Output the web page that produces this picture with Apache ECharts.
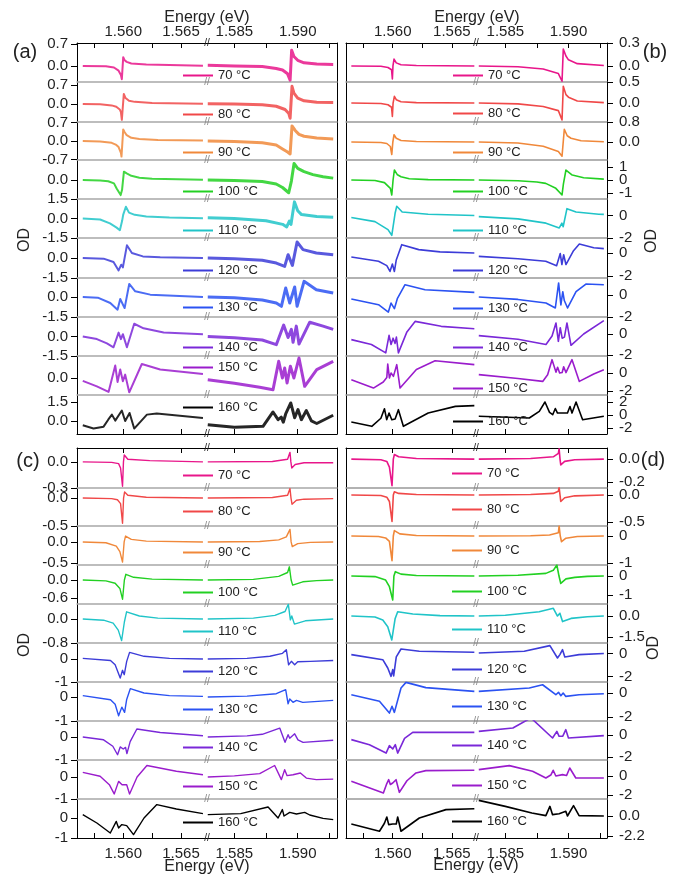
<!DOCTYPE html>
<html>
<head>
<meta charset="utf-8">
<script src="https://cdn.jsdelivr.net/npm/echarts@6/dist/echarts.min.js"></script>
<style>
  html, body { margin: 0; padding: 0; background: #fff; }
  #main { width: 692px; height: 877px; }
</style>
</head>
<body>
<div id="main"></div>
<script>
const FONT = '"Liberation Sans", Arial, sans-serif';

const temps = ['70 °C', '80 °C', '90 °C', '100 °C', '110 °C', '120 °C', '130 °C', '140 °C', '150 °C', '160 °C'];
const colors = ['#e8168a', '#f04848', '#f0883a', '#22d022', '#20c4c8', '#3c3cd8', '#2b52f2', '#7a28d8', '#9a1ccc', '#000000'];

// (a) measured, low energy part / high energy part, [energy eV, OD]
const aLeft = [
  [[1.5565,0],[1.5585,-0.01],[1.5592,-0.05],[1.5596,-0.15],[1.5598,-0.29],[1.55988,-0.42],[1.5600,0.28],[1.5601,0.19],[1.5603,0.13],[1.5607,0.08],[1.5620,0.05],[1.5640,0.03],[1.5669,0.01]],
  [[1.5565,0],[1.5580,-0.01],[1.5590,-0.05],[1.5594,-0.1],[1.5597,-0.2],[1.5598,-0.3],[1.55988,-0.58],[1.56005,0.37],[1.5602,0.22],[1.5605,0.12],[1.5610,0.08],[1.5625,0.04],[1.5669,0.01]],
  [[1.5565,0],[1.5580,-0.02],[1.5590,-0.07],[1.5594,-0.15],[1.5596,-0.23],[1.5598,-0.45],[1.55985,-0.59],[1.5600,0.44],[1.5601,0.35],[1.5603,0.22],[1.5607,0.12],[1.5614,0.08],[1.5630,0.04],[1.5669,0.02]],
  [[1.5565,0],[1.5580,-0.02],[1.5587,-0.06],[1.5592,-0.17],[1.55943,-0.43],[1.55978,-0.77],[1.5599,-0.5],[1.56006,0.43],[1.5603,0.34],[1.5607,0.22],[1.5614,0.12],[1.5625,0.07],[1.5669,0.02]],
  [[1.5565,0],[1.5580,-0.08],[1.55885,-0.38],[1.55943,-0.7],[1.55971,-0.9],[1.5599,-0.2],[1.5600,0.3],[1.56023,0.9],[1.5605,0.45],[1.5610,0.28],[1.5620,0.16],[1.5640,0.07],[1.5669,0.02]],
  [[1.5565,0],[1.5583,-0.05],[1.55916,-0.3],[1.5596,-0.93],[1.55983,-0.5],[1.55997,-0.7],[1.56032,0.95],[1.56075,0.37],[1.5617,0.12],[1.5632,0.05],[1.5669,0]],
  [[1.5565,0],[1.5578,-0.05],[1.55888,-0.45],[1.55951,-0.95],[1.55974,-0.15],[1.56012,-0.83],[1.56052,0.98],[1.56104,0.43],[1.56234,0.18],[1.5669,0]],
  [[1.5565,0],[1.55772,-0.2],[1.55859,-0.53],[1.55916,-0.83],[1.5596,0.3],[1.5598,-0.2],[1.55997,0.18],[1.56032,-0.83],[1.56095,0.98],[1.56176,0.63],[1.5635,0.3],[1.5669,0.18]],
  [[1.5565,-0.22],[1.55772,-0.63],[1.55873,-1.05],[1.55931,0.93],[1.55951,-0.3],[1.55974,0.63],[1.55997,-0.25],[1.56017,0.25],[1.56052,-1.08],[1.56161,1.05],[1.5632,0.63],[1.5669,0.3]],
  [[1.5565,-0.34],[1.55743,-0.6],[1.5583,-0.45],[1.5587,0.1],[1.55902,0.5],[1.55931,0.03],[1.55988,0.82],[1.56017,0],[1.56055,0.63],[1.56095,-0.6],[1.56205,0.5],[1.5629,0.58],[1.5669,0.24]]
];
const aRight = [
  [[1.5829,0.02],[1.5850,0],[1.5872,-0.02],[1.5883,-0.08],[1.5888,-0.13],[1.5892,-0.25],[1.5894,-0.45],[1.58952,0.5],[1.5897,0.3],[1.5900,0.18],[1.5905,0.1],[1.5915,0.06],[1.5928,0.05]],
  [[1.5829,0.01],[1.5850,0],[1.5872,-0.03],[1.5883,-0.08],[1.5890,-0.2],[1.5893,-0.35],[1.5894,-0.52],[1.58955,0.65],[1.5897,0.4],[1.5900,0.22],[1.5905,0.12],[1.5915,0.07],[1.5928,0.06]],
  [[1.5829,0],[1.5850,-0.02],[1.5872,-0.07],[1.5883,-0.15],[1.5888,-0.3],[1.5892,-0.42],[1.5894,-0.49],[1.58955,0.57],[1.5898,0.4],[1.5901,0.25],[1.5905,0.18],[1.5915,0.11],[1.5928,0.08]],
  [[1.5829,0],[1.5850,-0.02],[1.5872,-0.07],[1.5883,-0.2],[1.5888,-0.38],[1.58929,-0.65],[1.5895,-0.05],[1.58971,0.85],[1.5900,0.6],[1.5905,0.43],[1.5912,0.28],[1.5920,0.17],[1.5928,0.1]],
  [[1.5829,0.05],[1.5850,0],[1.5875,-0.17],[1.58881,-0.45],[1.58913,-0.65],[1.58934,-0.2],[1.58947,-0.45],[1.58974,1.28],[1.5900,0.6],[1.5903,0.3],[1.5915,0.15],[1.5928,0.1]],
  [[1.5829,0],[1.5850,-0.05],[1.5872,-0.17],[1.58831,-0.38],[1.58897,-0.63],[1.58924,0.25],[1.58958,-0.55],[1.58995,1.2],[1.59042,0.63],[1.59147,0.37],[1.5928,0.25]],
  [[1.5829,0],[1.5850,-0.05],[1.5872,-0.22],[1.58831,-0.45],[1.58871,-0.7],[1.58905,0.68],[1.58937,-0.45],[1.58976,0.75],[1.58995,-0.7],[1.5905,1.18],[1.59147,0.55],[1.5928,0.3]],
  [[1.5829,0],[1.5850,-0.1],[1.5872,-0.27],[1.58831,-0.63],[1.58889,0.88],[1.58924,-0.08],[1.5895,0.55],[1.58963,-0.45],[1.58989,0.8],[1.5901,-0.58],[1.59095,1.1],[1.5920,0.8],[1.5928,0.55]],
  [[1.5829,-0.13],[1.5850,-0.4],[1.5870,-0.7],[1.58805,-0.88],[1.5885,1.25],[1.58879,0],[1.58897,0.75],[1.58916,-0.38],[1.58942,0.88],[1.5897,0],[1.5901,1.5],[1.59055,-0.63],[1.5915,0.63],[1.5928,1.25]],
  [[1.5829,-0.3],[1.5850,-0.5],[1.58726,-0.42],[1.58805,0.71],[1.58845,0.1],[1.5887,0.3],[1.58886,-0.1],[1.58905,0.55],[1.58945,1.42],[1.58976,0.25],[1.59002,0.9],[1.59029,0.1],[1.59068,0.82],[1.59108,0],[1.5915,-0.2],[1.5928,0.45]]
];

// (b)
const bLeft = [
  [[1.5565,0],[1.5590,-0.005],[1.5596,-0.02],[1.5599,-0.05],[1.55997,-0.17],[1.56002,0],[1.56011,0.09],[1.5603,0.04],[1.5607,0.015],[1.5620,0.005],[1.5669,0]],
  [[1.5565,0],[1.5590,-0.01],[1.5596,-0.04],[1.5599,-0.1],[1.55997,-0.32],[1.56003,0],[1.56014,0.16],[1.5603,0.08],[1.5607,0.03],[1.5620,0.01],[1.5669,0]],
  [[1.5565,0],[1.5590,-0.02],[1.5595,-0.06],[1.5598,-0.18],[1.55992,-0.5],[1.56001,0],[1.56011,0.29],[1.5603,0.15],[1.5607,0.06],[1.5620,0.02],[1.5669,0]],
  [[1.5565,0],[1.5585,-0.04],[1.5593,-0.2],[1.5598,-0.64],[1.55992,-1.15],[1.56003,0],[1.56014,0.77],[1.5604,0.4],[1.5607,0.25],[1.5614,0.1],[1.5630,0.03],[1.5669,0]],
  [[1.5565,-0.17],[1.5585,-0.54],[1.5596,-1.25],[1.55992,-1.76],[1.5602,0.2],[1.56034,0.83],[1.5608,0.31],[1.5630,0.11],[1.5669,0]],
  [[1.5565,-0.35],[1.5588,-0.72],[1.5595,-1.1],[1.55977,-1.6],[1.55997,-0.96],[1.56014,-1.6],[1.5603,-0.6],[1.56076,0.72],[1.5622,0.29],[1.5640,0.1],[1.5669,0]],
  [[1.5565,-0.36],[1.5588,-0.88],[1.55963,-1.55],[1.55986,-0.73],[1.56014,-1.24],[1.5604,-0.3],[1.56104,0.94],[1.56273,0.48],[1.5669,0.24]],
  [[1.5565,-0.54],[1.5582,-1.0],[1.55941,-1.8],[1.55969,-0.13],[1.55986,-1.0],[1.56003,-0.4],[1.5602,-0.9],[1.56031,-0.3],[1.56048,-1.8],[1.5612,0.2],[1.56189,1.2],[1.5641,0.73],[1.5669,0.5]],
  [[1.5565,-0.74],[1.55837,-1.67],[1.5592,-1.0],[1.5595,-0.5],[1.55958,1.0],[1.55972,-0.55],[1.55986,0],[1.56006,-0.37],[1.56034,0.93],[1.56062,-1.67],[1.5620,0.4],[1.56358,1.37],[1.5669,0.93]],
  [[1.5565,-1.08],[1.55823,-1.74],[1.5590,-0.5],[1.5593,0.97],[1.55949,-0.72],[1.55969,0.3],[1.55992,-0.72],[1.5602,-0.6],[1.56048,0.82],[1.5609,-1.74],[1.5630,0.3],[1.5653,1.33],[1.5669,1.44]]
];
const bRight = [
  [[1.5829,0],[1.5860,-0.01],[1.5880,-0.04],[1.5892,-0.1],[1.58949,-0.2],[1.58959,0.22],[1.5898,0.13],[1.5900,0.08],[1.5907,0.03],[1.5928,0.005]],
  [[1.5829,0],[1.5860,-0.02],[1.5880,-0.08],[1.5892,-0.18],[1.58949,-0.4],[1.58959,0.4],[1.5898,0.2],[1.5900,0.14],[1.5907,0.05],[1.5928,0.01]],
  [[1.5829,0],[1.5860,-0.04],[1.5880,-0.17],[1.5892,-0.38],[1.58949,-0.57],[1.58967,0.51],[1.5899,0.25],[1.5902,0.15],[1.5910,0.05],[1.5928,0.01]],
  [[1.5829,0],[1.5860,-0.06],[1.5875,-0.15],[1.5882,-0.26],[1.5890,-0.64],[1.58949,-1.15],[1.5896,-0.3],[1.5898,0.77],[1.5903,0.38],[1.5912,0.18],[1.5928,0.07]],
  [[1.5829,-0.1],[1.5860,-0.3],[1.58822,-0.68],[1.58927,-1.1],[1.58948,-0.68],[1.58958,-1.0],[1.58988,0.61],[1.5906,0.31],[1.5924,0.11],[1.5928,0.1]],
  [[1.5829,-0.29],[1.5860,-0.5],[1.5882,-0.72],[1.58906,-1.1],[1.58935,-0.05],[1.58948,-1.0],[1.58962,-0.15],[1.5898,-1.0],[1.5904,0.2],[1.59086,0.78],[1.5920,0.45],[1.5928,0.38]],
  [[1.5829,-0.18],[1.5860,-0.4],[1.58822,-0.73],[1.58896,-1.18],[1.58922,1.1],[1.5894,-0.9],[1.58955,0.3],[1.58967,-0.5],[1.58993,-1.18],[1.5906,0.3],[1.59138,1.0],[1.5928,0.94]],
  [[1.5829,-0.16],[1.5860,-0.5],[1.58822,-1.0],[1.5887,-0.2],[1.58901,1.05],[1.5892,-0.7],[1.58935,0.6],[1.5895,-0.4],[1.58968,-0.3],[1.58988,1.05],[1.5902,-1.08],[1.5912,0],[1.5928,1.27]],
  [[1.5829,-0.18],[1.5860,-0.6],[1.58796,-0.93],[1.58835,-0.2],[1.5887,1.48],[1.58901,0.1],[1.58914,0.63],[1.5893,0],[1.5895,0.05],[1.58962,0.7],[1.5898,0.05],[1.59028,1.48],[1.59086,-0.93],[1.5920,-0.1],[1.5928,0.37]],
  [[1.5829,-0.2],[1.5869,-0.46],[1.58769,0.56],[1.58814,2.0],[1.5885,0.4],[1.58875,0.05],[1.58896,1.0],[1.58913,0.3],[1.58992,0.3],[1.59012,1.3],[1.59028,0.3],[1.5906,2.0],[1.59112,-0.72],[1.5928,-0.2]]
];

// (c)
const cLeft = [
  [[1.5565,0],[1.5590,-0.005],[1.5596,-0.02],[1.55977,-0.07],[1.55994,-0.28],[1.56002,0],[1.56009,0.08],[1.5604,0.03],[1.5623,0.015],[1.5669,0]],
  [[1.5565,0],[1.5590,-0.01],[1.5595,-0.03],[1.55977,-0.1],[1.55994,-0.45],[1.56003,0],[1.56012,0.11],[1.5604,0.05],[1.5620,0.015],[1.5669,0]],
  [[1.5565,0],[1.5585,-0.02],[1.5594,-0.1],[1.55971,-0.23],[1.55994,-0.48],[1.56008,0],[1.5602,0.14],[1.5607,0.06],[1.5620,0.02],[1.5669,0]],
  [[1.5565,0],[1.5585,-0.03],[1.5593,-0.11],[1.55971,-0.28],[1.55994,-0.64],[1.5601,0],[1.56023,0.19],[1.5609,0.09],[1.5625,0.03],[1.5669,0]],
  [[1.5565,0],[1.5583,-0.04],[1.55913,-0.14],[1.55957,-0.37],[1.55986,-0.72],[1.5601,-0.1],[1.56029,0.24],[1.5614,0.1],[1.5630,0.03],[1.5669,0]],
  [[1.5565,0.03],[1.5589,-0.06],[1.5593,-0.25],[1.55974,-0.83],[1.55994,-0.49],[1.56009,-0.68],[1.5603,-0.1],[1.56055,0.29],[1.5618,0.12],[1.5640,0.03],[1.5669,0]],
  [[1.5565,0.06],[1.5589,-0.11],[1.5593,-0.3],[1.5596,-0.78],[1.55988,-0.42],[1.56012,-0.64],[1.5603,-0.1],[1.56061,0.35],[1.5618,0.17],[1.5640,0.06],[1.5669,0.03]],
  [[1.5565,0],[1.5583,-0.12],[1.5591,-0.4],[1.55951,-0.77],[1.55974,-0.43],[1.5600,-0.52],[1.5602,-0.45],[1.56032,-0.72],[1.5606,-0.2],[1.56118,0.35],[1.5632,0.2],[1.5669,0.06]],
  [[1.5565,0.21],[1.5580,0.03],[1.5588,-0.35],[1.55922,-0.77],[1.5596,-0.2],[1.5599,-0.35],[1.56003,-0.3],[1.5603,-0.35],[1.56055,-0.77],[1.5612,0],[1.56205,0.52],[1.5646,0.26],[1.5669,0.1]],
  [[1.5565,0.17],[1.55772,-0.25],[1.55888,-0.75],[1.5594,-0.17],[1.5596,-0.5],[1.55988,-0.33],[1.5603,-0.38],[1.56046,-0.33],[1.56089,-0.83],[1.5618,0],[1.56291,0.67],[1.5646,0.45],[1.5669,0.22]]
];
const cRight = [
  [[1.5829,0],[1.5880,0.005],[1.5892,0.03],[1.58939,0.11],[1.58946,0],[1.58953,-0.07],[1.5898,-0.03],[1.5905,-0.01],[1.5928,-0.01]],
  [[1.5829,0],[1.5880,0.01],[1.5892,0.05],[1.58939,0.17],[1.58947,0],[1.58955,-0.11],[1.5899,-0.04],[1.5905,-0.02],[1.5928,-0.01]],
  [[1.5829,0],[1.5870,0.01],[1.5885,0.05],[1.5891,0.12],[1.58939,0.3],[1.58948,0],[1.58957,-0.11],[1.5900,-0.04],[1.5910,-0.01],[1.5928,0]],
  [[1.5829,0],[1.5865,0.02],[1.5885,0.12],[1.5892,0.25],[1.58934,0.44],[1.58948,0],[1.5896,-0.17],[1.5904,-0.06],[1.5915,-0.02],[1.5928,0]],
  [[1.5829,0],[1.5865,0.03],[1.5882,0.12],[1.5890,0.25],[1.58926,0.49],[1.58942,-0.03],[1.58953,0.1],[1.58974,-0.17],[1.5906,-0.06],[1.5928,0]],
  [[1.5829,0],[1.5860,0.03],[1.5878,0.12],[1.5888,0.25],[1.5891,0.41],[1.58928,-0.25],[1.5895,-0.1],[1.58976,-0.25],[1.5900,-0.12],[1.5910,-0.1],[1.5928,-0.06]],
  [[1.5829,0],[1.5860,0.04],[1.58831,0.14],[1.58905,0.31],[1.58924,-0.28],[1.58937,-0.08],[1.58963,-0.22],[1.5899,-0.14],[1.5904,-0.22],[1.5928,-0.14]],
  [[1.5829,0],[1.5860,0.05],[1.5872,0.12],[1.58858,0.39],[1.5890,-0.23],[1.58924,0.1],[1.58937,-0.05],[1.58976,0.14],[1.59002,-0.12],[1.59042,-0.23],[1.5928,-0.14]],
  [[1.5829,0],[1.5850,0.05],[1.5870,0.15],[1.58818,0.52],[1.58871,-0.12],[1.58897,0.33],[1.58916,0.06],[1.58963,0.1],[1.59021,0.18],[1.59068,-0.05],[1.59147,-0.12],[1.5928,-0.1]],
  [[1.5829,0.17],[1.5855,0.22],[1.58766,0.55],[1.58845,0],[1.58879,0.42],[1.58892,0.1],[1.58937,0.28],[1.5899,0.2],[1.59055,0.28],[1.59095,0.15],[1.5920,-0.02],[1.5928,-0.08]]
];

// (d)
const dLeft = [
  [[1.5565,0],[1.5590,-0.005],[1.5595,-0.02],[1.55972,-0.07],[1.55994,-0.23],[1.56005,0],[1.56014,0.04],[1.5605,0.02],[1.5620,0.005],[1.5669,0]],
  [[1.5565,0],[1.5590,-0.01],[1.5595,-0.04],[1.55972,-0.12],[1.55994,-0.49],[1.56005,0],[1.56014,0.06],[1.5605,0.03],[1.5620,0.01],[1.5669,0]],
  [[1.5565,0],[1.5588,-0.02],[1.5594,-0.07],[1.55972,-0.2],[1.55994,-0.91],[1.56005,0],[1.56014,0.2],[1.5606,0.08],[1.5620,0.02],[1.5669,0]],
  [[1.5565,0],[1.5585,-0.03],[1.5594,-0.21],[1.55972,-0.56],[1.5600,-1.26],[1.5601,0],[1.56022,0.23],[1.5607,0.1],[1.5620,0.03],[1.5669,0]],
  [[1.5565,0],[1.5585,-0.07],[1.55916,-0.29],[1.55958,-0.76],[1.55992,-1.71],[1.5602,-0.2],[1.56042,0.31],[1.5617,0.14],[1.5640,0.03],[1.5669,0]],
  [[1.5565,-0.1],[1.55916,-0.54],[1.55958,-1.26],[1.55986,-1.99],[1.5600,-1.4],[1.56008,-1.95],[1.5603,-0.3],[1.5607,0.39],[1.56225,0.19],[1.5669,0.1]],
  [[1.5565,-0.14],[1.55888,-0.69],[1.55972,-1.67],[1.55994,-1.1],[1.56014,-1.61],[1.5607,0.42],[1.56112,0.89],[1.5628,0.45],[1.5669,0.14]],
  [[1.5565,-0.42],[1.55803,-0.88],[1.55944,-1.64],[1.55972,-0.97],[1.5600,-1.27],[1.56022,-0.88],[1.56042,-1.64],[1.5610,-0.3],[1.56169,0.24],[1.5669,0.24]],
  [[1.5565,-0.56],[1.55921,-1.79],[1.5595,-0.8],[1.55966,-0.39],[1.5598,-0.9],[1.5600,-0.74],[1.56028,-0.39],[1.56056,-1.72],[1.5612,-0.5],[1.56197,0.32],[1.5628,0.56],[1.5669,0.6]],
  [[1.5565,-0.88],[1.55888,-1.68],[1.5593,-0.8],[1.5595,-0.11],[1.55966,-0.95],[1.5600,-0.88],[1.5603,-0.88],[1.56042,-0.11],[1.5607,-1.68],[1.56225,-0.22],[1.5645,0.7],[1.5669,0.8]]
];
const dRight = [
  [[1.5829,0],[1.5870,0.005],[1.5888,0.02],[1.5892,0.05],[1.58926,0.09],[1.58933,0],[1.58939,-0.05],[1.5897,-0.02],[1.5905,-0.005],[1.5928,0]],
  [[1.5829,0],[1.5870,0.01],[1.5888,0.03],[1.5892,0.07],[1.58926,0.14],[1.58933,0],[1.58939,-0.12],[1.5897,-0.05],[1.5905,-0.015],[1.5928,0]],
  [[1.5829,0],[1.5870,0.01],[1.5885,0.04],[1.5892,0.12],[1.58926,0.37],[1.58935,0],[1.58945,-0.21],[1.5898,-0.08],[1.5907,-0.02],[1.5928,0]],
  [[1.5829,0],[1.5860,0.04],[1.58821,0.14],[1.5888,0.3],[1.58908,0.58],[1.58925,0],[1.58939,-0.39],[1.5898,-0.15],[1.5905,-0.07],[1.5915,-0.02],[1.5928,0]],
  [[1.5829,0],[1.5850,0.05],[1.58768,0.31],[1.5888,0.55],[1.58895,0.67],[1.58913,0],[1.58932,0.2],[1.58953,-0.4],[1.5902,-0.17],[1.5915,-0.05],[1.5928,0]],
  [[1.5829,0.04],[1.5865,0.19],[1.58853,0.68],[1.58913,-0.39],[1.58932,-0.1],[1.58953,0.33],[1.58971,-0.3],[1.59084,-0.1],[1.5928,0]],
  [[1.5829,0.14],[1.5869,0.42],[1.58795,0.69],[1.5890,-0.14],[1.58921,0.06],[1.5894,-0.22],[1.58958,0],[1.58979,-0.28],[1.59084,-0.14],[1.5928,-0.06]],
  [[1.5829,0.33],[1.5856,0.64],[1.58703,1.55],[1.58874,-0.27],[1.58908,0.33],[1.58926,-0.12],[1.58955,-0.1],[1.58979,0.48],[1.5900,-0.27],[1.5928,-0.06]],
  [[1.5829,0.67],[1.58532,1.09],[1.58716,0.49],[1.58821,-0.21],[1.5886,0.1],[1.58879,0.6],[1.5890,0],[1.58953,0.14],[1.58985,0.05],[1.5901,0.84],[1.59058,-0.21],[1.5928,-0.21]],
  [[1.5829,1.72],[1.5850,1.06],[1.5871,0.33],[1.58821,0.04],[1.58853,1.06],[1.58874,0.15],[1.58926,0.25],[1.58979,0.51],[1.58992,0],[1.5904,1.14],[1.59084,0.04],[1.5928,0]]
];

// y ranges and tick labels of the stacked rows
const yRangeA = [[-0.51,0.73],[-0.66,0.81],[-0.72,0.72],[-0.97,1.03],[-1.5,1.5],[-1.5,1.5],[-1.5,1.43],[-1.5,1.5],[-1.28,1.65],[-1.03,2.05]];
const yTicksA = [[0,0.7],[0,0.7],[-0.7,0,0.7],[0],[-1.5,0,1.5],[-1.5,0],[-1.5,0],[-1.5,0],[0],[0,1.5]];
const yRangeB = [[-0.21,0.3],[-0.45,0.5],[-0.72,0.8],[-1.46,1.54],[-2,1.47],[-2.17,1.3],[-2,1.55],[-2.1,1.62],[-2.44,1.89],[-2.92,3.08]];
const yTicksB = [[0,0.3],[0,0.5],[0,0.8],[-1,0,1],[-2,0],[-2,0],[-2,0],[-2,0],[-2,0],[-2,0,2]];
const yRangeC = [[-0.3,0.16],[-0.5,0.18],[-0.55,0.38],[-0.8,0.5],[-0.8,0.5],[-1,0.7],[-1,0.63],[-1,0.7],[-1,0.77],[-1,0.95]];
const yTicksC = [[-0.3,0],[-0.5,0],[-0.5,0],[-0.6,0],[-0.8,0],[-1,0],[-1,0],[-1,0],[-1,0],[-1,0]];
const yRangeD = [[-0.25,0.096],[-0.574,0.13],[-1.07,0.37],[-1.47,0.58],[-1.93,0.86],[-2.48,0.91],[-2.33,0.92],[-2.27,1.27],[-2.42,1.68],[-2.42,1.87]];
const yTicksD = [[-0.2,0],[-0.5,0],[-1,0],[-1,0],[-1.5,0],[-2,0],[-2,0],[-2,0],[-2,0],[-2.2,0]];
const decA = [1,1,1,1,1,1,1,1,1,1];
const decB = [1,1,1,0,0,0,0,0,0,0];
const decC = [1,1,1,1,1,0,0,0,0,0];
const decD = [1,1,0,0,1,0,0,0,0,1];

const xMajor = [[1.560, 1.565], [1.585, 1.590]];
const xAll = [[1.5575, 1.560, 1.5625, 1.565], [1.585, 1.5875, 1.590, 1.5925]];

// layout
const rowsTop = [43, 82, 122, 160, 199, 238, 278, 317, 356, 395, 434];
const rowsBottom = [448, 488, 526, 565, 604, 643, 682, 721, 760, 799, 838];
const legYA = [77, 116, 154, 193, 232, 272, 309, 349, 369, 409];
const legYB = [77, 115, 154, 193, 232, 272, 310, 349, 390, 423];
const legYC = [477, 513, 554, 594, 633, 673, 711, 749, 788, 824];
const legYD = [475, 511, 552, 593, 631, 671, 708, 747, 787, 823];

const panels = [
  { lx: 77, bx: 207, rx: 337, rows: rowsTop, xr: [[1.5560, 1.56725], [1.58284, 1.5931]], labSeg: 0,
    data: [aLeft, aRight], yr: yRangeA, yt: yTicksA, dec: decA, lw: [2, 3], op: 0.85,
    legX: 183, legY: legYA, topLab: true, botLab: false, topMinor: true, botMinor: false, sep: '#a8a8a8' },
  { lx: 346, bx: 476, rx: 607, rows: rowsTop, xr: [[1.55605, 1.56704], [1.58268, 1.59305]], labSeg: 1,
    data: [bLeft, bRight], yr: yRangeB, yt: yTicksB, dec: decB, lw: [1.6, 1.6], op: 1,
    legX: 453, legY: legYB, topLab: true, botLab: false, topMinor: true, botMinor: false, sep: '#999' },
  { lx: 77, bx: 207, rx: 337, rows: rowsBottom, xr: [[1.5560, 1.56725], [1.58284, 1.5931]], labSeg: 0,
    data: [cLeft, cRight], yr: yRangeC, yt: yTicksC, dec: decC, lw: [1.4, 1.4], op: 1,
    legX: 183, legY: legYC, topLab: false, botLab: true, topMinor: false, botMinor: true, sep: '#a8a8a8' },
  { lx: 346, bx: 476, rx: 607, rows: rowsBottom, xr: [[1.55605, 1.56704], [1.58268, 1.59305]], labSeg: 1,
    data: [dLeft, dRight], yr: yRangeD, yt: yTicksD, dec: decD, lw: [1.6, 1.6], op: 1,
    legX: 452, legY: legYD, topLab: false, botLab: true, topMinor: false, botMinor: true, sep: '#999' }
];

const option = { animation: false, backgroundColor: '#fff', grid: [], xAxis: [], yAxis: [], series: [], legend: [], graphic: [] };

function xAxisDef(gi, s, p, pos, opts) {
  return {
    type: 'value', gridIndex: gi, position: pos, min: p.xr[s][0], max: p.xr[s][1],
    splitLine: { show: false },
    axisLine: { show: true, onZero: false, lineStyle: { color: opts.lineColor, width: opts.lineWidth } },
    axisTick: { show: opts.ticks, inside: true, length: 5, customValues: opts.minor ? xAll[s] : xMajor[s],
      lineStyle: { color: '#000' } },
    axisLabel: { show: opts.labels, customValues: xMajor[s], formatter: v => v.toFixed(3),
      showMinLabel: true, showMaxLabel: true, hideOverlap: false,
      margin: pos === 'top' ? 4 : 8, fontSize: 15, color: '#222', fontFamily: FONT }
  };
}

// one y axis per tick label, so that tightly spaced labels are never dropped
function yAxisDef(gi, s, p, r, vals, showLine) {
  const lab = vals.length > 0;
  return {
    type: 'value', gridIndex: gi, position: s ? 'right' : 'left', offset: 0,
    min: p.yr[r][0], max: p.yr[r][1], splitLine: { show: false },
    axisLine: { show: showLine, onZero: false, lineStyle: { color: '#000', width: 1 } },
    axisTick: { show: lab, inside: false, length: 6, customValues: lab ? vals : undefined, lineStyle: { color: '#000' } },
    axisLabel: { show: lab, customValues: lab ? vals : undefined, formatter: v => v.toFixed(p.dec[r]),
      showMinLabel: true, showMaxLabel: true, hideOverlap: false,
      margin: s ? 12 : 9, fontSize: 15, color: '#222', fontFamily: FONT }
  };
}

panels.forEach(p => {
  for (let r = 0; r < 10; r++) {
    for (let s = 0; s < 2; s++) {
      const gi = option.grid.length;
      option.grid.push({
        left: s ? p.bx : p.lx, width: s ? p.rx - p.bx : p.bx - p.lx,
        top: p.rows[r], height: p.rows[r + 1] - p.rows[r], outerBoundsMode: 'none'
      });
      const last = r === 9;
      const xi = option.xAxis.length;
      option.xAxis.push(xAxisDef(gi, s, p, 'bottom', {
        lineColor: last ? '#000' : p.sep, lineWidth: last ? 1 : 1.5,
        ticks: last, minor: p.botMinor, labels: last && p.botLab
      }));
      if (r === 0) {
        option.xAxis.push(xAxisDef(gi, s, p, 'top', {
          lineColor: '#000', lineWidth: 1, ticks: true, minor: p.topMinor, labels: p.topLab
        }));
      }
      const yi = option.yAxis.length;
      const labels = s === p.labSeg ? p.yt[r] : [];
      option.yAxis.push(yAxisDef(gi, s, p, r, labels.slice(0, 1), true));
      labels.slice(1).forEach(v => option.yAxis.push(yAxisDef(gi, s, p, r, [v], false)));
      option.series.push({
        type: 'line', name: temps[r], xAxisIndex: xi, yAxisIndex: yi,
        data: p.data[s][r], showSymbol: false, symbol: 'none', silent: true,
        color: colors[r],
        lineStyle: { color: colors[r], width: p.lw[s], opacity: p.op, join: 'round' }
      });
    }
    option.legend.push({
      data: [temps[r]], left: p.legX, top: p.legY[r] - 8, padding: 0, itemGap: 0,
      icon: 'rect', itemWidth: 30, itemHeight: 2, selectedMode: false,
      textStyle: { fontSize: 13, color: '#222', fontFamily: FONT }
    });
  }
  // axis break marks
  p.rows.forEach((y, k) => {
    option.graphic.push({
      type: 'text', x: p.bx, y: y, z: 100,
      style: { text: '//', font: '10px ' + FONT, fill: (k === 0 || k === 10) ? '#222' : '#8a8a8a',
        align: 'center', verticalAlign: 'middle' }
    });
  });
});

const texts = [
  ['Energy (eV)', 207, 18, 16, 0], ['Energy (eV)', 477, 18, 16, 0],
  ['Energy (eV)', 207, 867, 16, 0], ['Energy (eV)', 476, 866, 16, 0],
  ['(a)', 25, 52, 20, 0], ['(b)', 655, 52, 20, 0], ['(c)', 28, 461, 20, 0], ['(d)', 653, 460, 20, 0],
  ['OD', 25, 240, 16, Math.PI / 2], ['OD', 652, 241, 16, Math.PI / 2],
  ['OD', 25, 645, 16, Math.PI / 2], ['OD', 654, 648, 16, Math.PI / 2]
];
texts.forEach(t => {
  option.graphic.push({
    type: 'text', x: t[1], y: t[2], rotation: t[4],
    style: { text: t[0], font: t[3] + 'px ' + FONT, fill: '#222', align: 'center', verticalAlign: 'middle' }
  });
});

const chart = echarts.init(document.getElementById('main'), null, { renderer: 'canvas' });
chart.setOption(option);
</script>
</body>
</html>
